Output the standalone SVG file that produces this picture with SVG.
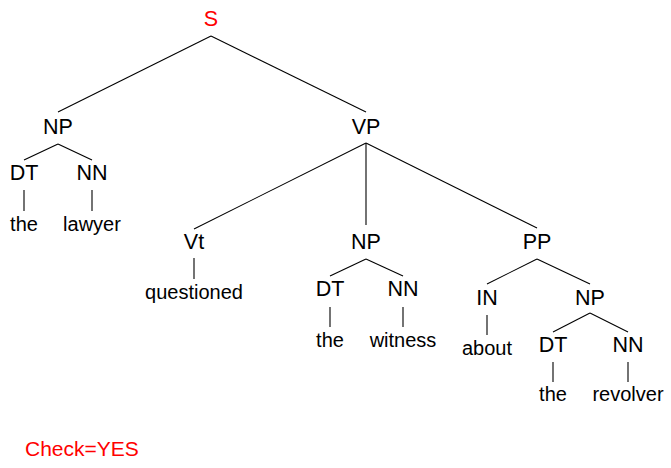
<svg xmlns="http://www.w3.org/2000/svg" width="671" height="468" viewBox="0 0 671 468">
<style>
text{font-family:"Liberation Sans",Arial,sans-serif;font-size:20px;fill:#000;text-anchor:middle}
.tag{font-size:21.5px}
.red{fill:#ff0000}
#edges line{stroke:#000;stroke-width:1.1}
</style>
<rect width="671" height="468" fill="#fff"/>
<g id="edges">
<line x1="211" y1="36" x2="58" y2="112"/>
<line x1="211" y1="36" x2="366" y2="112"/>
<line x1="58" y1="144" x2="24" y2="160"/>
<line x1="58" y1="144" x2="92" y2="160"/>
<line x1="24" y1="190" x2="24" y2="211"/>
<line x1="92" y1="190" x2="92" y2="211"/>
<line x1="366" y1="143" x2="194" y2="229"/>
<line x1="366" y1="143" x2="366" y2="225"/>
<line x1="366" y1="143" x2="537" y2="228"/>
<line x1="194" y1="258" x2="194" y2="279"/>
<line x1="366" y1="259" x2="330" y2="276"/>
<line x1="366" y1="259" x2="403" y2="276"/>
<line x1="330" y1="307" x2="330" y2="327"/>
<line x1="403" y1="307" x2="403" y2="327"/>
<line x1="537" y1="259" x2="487" y2="284"/>
<line x1="537" y1="259" x2="590" y2="284"/>
<line x1="487" y1="315" x2="487" y2="335"/>
<line x1="590" y1="313" x2="553" y2="332"/>
<line x1="590" y1="313" x2="628" y2="332"/>
<line x1="553" y1="362" x2="553" y2="382"/>
<line x1="628" y1="362" x2="628" y2="382"/>
</g>
<g id="n-S"><text class="tag red" x="211" y="26">S</text></g>
<g id="n-NP1"><text class="tag" x="58" y="134">NP</text></g>
<g id="n-DT1"><text class="tag" x="24" y="180">DT</text></g>
<g id="n-NN1"><text class="tag" x="92" y="180">NN</text></g>
<g id="n-the1"><text x="24" y="231">the</text></g>
<g id="n-lawyer"><text x="92" y="231">lawyer</text></g>
<g id="n-VP"><text class="tag" x="366" y="134">VP</text></g>
<g id="n-Vt"><text class="tag" x="194" y="249">Vt</text></g>
<g id="n-questioned"><text x="194" y="299">questioned</text></g>
<g id="n-NP2"><text class="tag" x="366" y="249">NP</text></g>
<g id="n-DT2"><text class="tag" x="330" y="296">DT</text></g>
<g id="n-NN2"><text class="tag" x="403" y="296">NN</text></g>
<g id="n-the2"><text x="330" y="347">the</text></g>
<g id="n-witness"><text x="403" y="347">witness</text></g>
<g id="n-PP"><text class="tag" x="537" y="249">PP</text></g>
<g id="n-IN"><text class="tag" x="487" y="305">IN</text></g>
<g id="n-about"><text x="487" y="355">about</text></g>
<g id="n-NP3"><text class="tag" x="590" y="305">NP</text></g>
<g id="n-DT3"><text class="tag" x="553" y="352">DT</text></g>
<g id="n-NN3"><text class="tag" x="628" y="352">NN</text></g>
<g id="n-the3"><text x="553" y="401">the</text></g>
<g id="n-revolver"><text x="628" y="401">revolver</text></g>
<g id="check"><text class="red" x="25" y="456" style="text-anchor:start;font-size:21px">Check=YES</text></g>
</svg>
